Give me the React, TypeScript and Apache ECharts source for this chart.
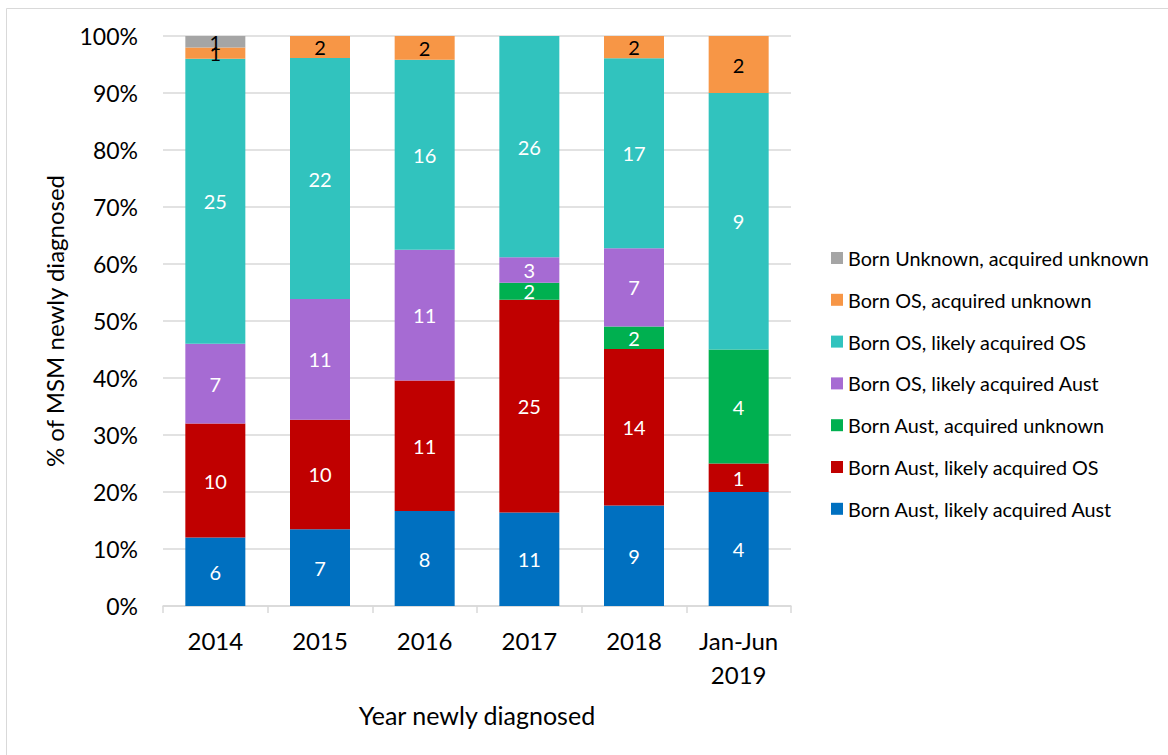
import React, { useEffect, useRef } from "react";
import * as echarts from "echarts";

// Year categories on the x axis
const categories = ["2014", "2015", "2016", "2017", "2018", "Jan-Jun\n2019"];

// Counts of MSM newly diagnosed, per group (bottom of stack to top)
const bornAustAcqAust = [6, 7, 8, 11, 9, 4];
const bornAustAcqOS = [10, 10, 11, 25, 14, 1];
const bornAustAcqUnknown = [0, 0, 0, 2, 2, 4];
const bornOSAcqAust = [7, 11, 11, 3, 7, 0];
const bornOSAcqOS = [25, 22, 16, 26, 17, 9];
const bornOSAcqUnknown = [1, 2, 2, 0, 2, 2];
const bornUnknownAcqUnknown = [1, 0, 0, 0, 0, 0];

const groupNames = [
  "Born Aust, likely acquired Aust",
  "Born Aust, likely acquired OS",
  "Born Aust, acquired unknown",
  "Born OS, likely acquired Aust",
  "Born OS, likely acquired OS",
  "Born OS, acquired unknown",
  "Born Unknown, acquired unknown",
];
const groupCounts = [
  bornAustAcqAust,
  bornAustAcqOS,
  bornAustAcqUnknown,
  bornOSAcqAust,
  bornOSAcqOS,
  bornOSAcqUnknown,
  bornUnknownAcqUnknown,
];
const groupColors = ["#0070C0", "#C00000", "#00B050", "#A66BD3", "#31C3BE", "#F79646", "#A5A5A5"];
const labelColors = ["#FFFFFF", "#FFFFFF", "#FFFFFF", "#FFFFFF", "#FFFFFF", "#000000", "#000000"];
// thin top segments get a tighter label line box
const labelLineHeights = [14, 14, 14, 14, 14, 11, 11];

const yTicks = { min: 0, max: 100, interval: 10 };

const FONT = "Lato, 'Open Sans', sans-serif";

export default function App() {
  const ref = useRef<HTMLDivElement>(null);

  useEffect(() => {
    if (!ref.current) return;
    const chart = echarts.init(ref.current, undefined, { renderer: "svg" });

    const totals = categories.map((_, i) =>
      groupCounts.reduce((s, g) => s + g[i], 0)
    );

    const series = groupNames.map((name, gi) => ({
      name,
      type: "bar",
      stack: "total",
      barWidth: 60,
      itemStyle: { color: groupColors[gi] },
      label: {
        show: true,
        position: "inside",
        color: labelColors[gi],
        fontSize: 20,
        lineHeight: labelLineHeights[gi],
        fontFamily: FONT,
        formatter: (p: any) => (p.data.count > 0 ? String(p.data.count) : ""),
      },
      data: groupCounts[gi].map((c, i) => ({
        value: (c / totals[i]) * 100,
        count: c,
      })),
    }));

    chart.setOption({
      animation: false,
      backgroundColor: "#FFFFFF",
      textStyle: { fontFamily: FONT },
      graphic: [
        {
          type: "rect",
          left: 4,
          top: 6,
          shape: { width: 1200, height: 800 },
          style: { fill: "none", stroke: "#D9D9D9", lineWidth: 1 },
          silent: true,
        },
      ],
      grid: { left: 163, right: 377, top: 36, bottom: 149, containLabel: false },
      legend: {
        orient: "vertical",
        left: 826,
        top: 243,
        padding: 5,
        itemWidth: 12,
        itemHeight: 12,
        itemGap: 21.8,
        icon: "rect",
        data: [...groupNames].reverse(),
        textStyle: { fontSize: 19.8, color: "#000000", fontFamily: FONT, lineHeight: 20 },
      },
      xAxis: {
        type: "category",
        data: categories,
        name: "Year newly diagnosed",
        nameLocation: "middle",
        nameGap: 96,
        nameTextStyle: { fontSize: 25, color: "#000000", fontFamily: FONT },
        axisLine: { lineStyle: { color: "#D9D9D9", width: 1.5 } },
        axisTick: { show: true, length: 7, lineStyle: { color: "#D9D9D9", width: 1.5 } },
        axisLabel: {
          fontSize: 24,
          color: "#000000",
          margin: 17,
          lineHeight: 34,
          fontFamily: FONT,
        },
      },
      yAxis: {
        type: "value",
        min: yTicks.min,
        max: yTicks.max,
        interval: yTicks.interval,
        name: "% of MSM newly diagnosed",
        nameLocation: "middle",
        nameGap: 97,
        nameRotate: 90,
        nameTextStyle: { fontSize: 24, color: "#000000", fontFamily: FONT },
        axisLine: { show: false },
        axisTick: { show: false },
        splitLine: { lineStyle: { color: "#D9D9D9", width: 1.5 } },
        axisLabel: {
          formatter: "{value}%",
          fontSize: 23,
          color: "#000000",
          margin: 25,
          fontFamily: FONT,
        },
      },
      series,
    });

    return () => chart.dispose();
  }, []);

  return (
    <div
      ref={ref}
      style={{ position: "fixed", left: 0, top: 0, width: 1168, height: 755 }}
    />
  );
}
